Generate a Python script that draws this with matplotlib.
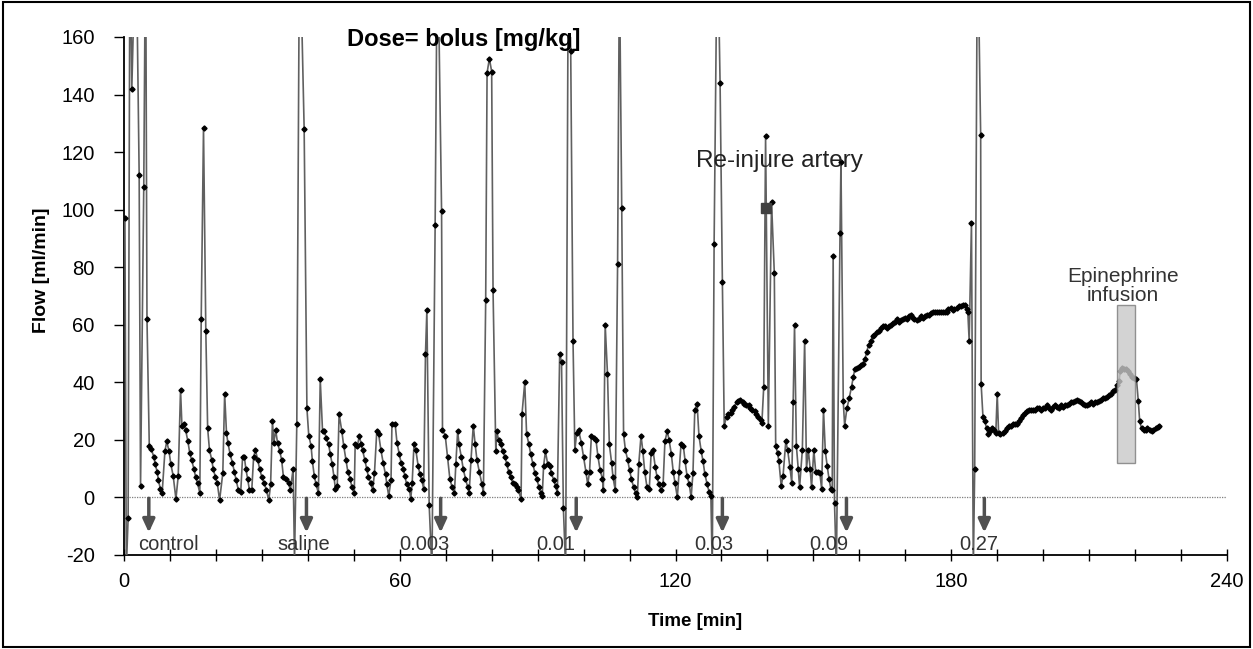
import matplotlib.pyplot as plt
from matplotlib.patches import Rectangle
import numpy as np

plt.rcParams['font.family'] = ['Liberation Sans', 'DejaVu Sans']
plt.rcParams['axes.unicode_minus'] = False

# flow readings [ml/min] vs time [min], split by dose period (200/-25 = off-scale spikes)
t_control = [0.2, 0.5, 0.9, 1.3, 1.7, 2.6, 3.3, 3.6, 4.3, 4.7, 5.0, 5.5, 5.9, 6.5, 6.8, 7.2, 7.5, 7.9, 8.3, 8.9,
             9.3, 9.8, 10.2, 10.7, 11.3, 11.8, 12.3, 12.6, 13.0, 13.4, 13.9, 14.3, 14.7, 15.2, 15.6, 16.0, 16.5,
             16.8, 17.3, 17.8, 18.2, 18.6, 19.1, 19.4, 19.9, 20.3, 20.8, 21.5, 21.9, 22.3, 22.6, 23.1, 23.6, 24.0,
             24.4, 24.9, 25.4, 25.8, 26.2, 26.5, 26.9, 27.3, 27.8, 28.2, 28.6, 29.1, 29.5, 30.0, 30.5, 31.0, 31.5,
             31.9, 32.3, 32.6, 33.0, 33.4, 33.9, 34.3, 34.7, 35.2, 35.8, 36.2, 36.8]
flow_control = [97, -25, -7, 200, 142, 200, 112, 4, 108, 200, 62, 18, 17, 14, 11.5, 9, 6, 3, 1.5, 16,
                19.5, 16, 11.5, 7.5, -0.5, 7.5, 37.5, 25, 25.5, 23.5, 19.5, 15.5, 13, 10, 7, 5, 1.5,
                62, 128.5, 58, 24, 16.5, 13, 10, 7, 5, -1, 8.5, 36, 22.5, 19, 15, 12, 9,
                6, 2.5, 2, 14, 14, 10, 6.5, 2.5, 2.5, 14, 16.5, 13, 10, 7, 5, 2.5, -1,
                4.5, 26.5, 19, 23.5, 19, 16, 13, 7, 6.5, 5, 2.5, 10]

t_saline = [37.1, 37.6, 38.2, 39.2, 39.8, 40.2, 40.7, 41.0, 41.4, 41.8, 42.3, 42.7, 43.2, 43.6, 44.0, 44.5,
            44.9, 45.3, 45.7, 46.0, 46.4, 46.8, 47.4, 47.8, 48.3, 48.7, 49.2, 49.6, 50.1, 50.3, 50.8, 51.2,
            51.6, 51.9, 52.4, 52.8, 53.2, 53.7, 54.1, 54.5, 55.0, 55.4, 55.9, 56.4, 56.9, 57.2, 57.6, 58.1,
            58.3, 59.0, 59.4, 59.9, 60.3, 60.8, 61.1, 61.5, 62.1, 62.4, 62.7, 63.1, 63.5, 64.0, 64.4, 64.8,
            65.2, 65.6, 65.9, 66.4]
flow_saline = [-22, 25.5, 200, 128, 31, 21.5, 18, 12.5, 7.5, 4.5, 1.5, 41, 23, 23, 20.5, 18.5,
               15, 11.5, 7, 3, 4, 29, 23, 18, 13, 9, 6.5, 3.5, 1.5, 18.5, 18, 21.5,
               18.5, 16.5, 13, 10, 7, 5, 2.5, 8.5, 23, 22, 16.5, 12, 8, 4.5, 0.5, 6,
               25.5, 25.5, 19, 15, 12, 10, 7.5, 4.5, 3, -0.5, 5, 18.5, 16.5, 11, 8, 6,
               3, 50, 65, -2.5]

t_0003 = [67.0, 67.7, 68.2, 69.1, 69.3, 69.9, 70.4, 70.9, 71.4, 71.9, 72.2, 72.6, 72.9, 73.4, 73.8, 74.3,
          74.8, 75.1, 75.5, 76.0, 76.4, 76.8, 77.3, 77.9, 78.2, 78.7, 79.0, 79.5, 80.0, 80.3, 80.9, 81.1,
          81.5, 82.0, 82.4, 82.9, 83.3, 83.7, 84.2, 84.6, 85.1, 85.5, 85.8, 86.4, 86.6, 87.2, 87.6, 88.1,
          88.5, 89.0, 89.4, 89.8, 90.3, 90.7, 91.0, 91.3, 91.7, 92.2, 92.6, 93.0, 93.5, 93.9, 94.3, 94.8,
          95.2, 95.6]
flow_0003 = [-25, 94.5, 200, 99.5, 23.5, 21.5, 14, 6.5, 3.5, 1.5, 11.5, 23, 18.5, 14, 10, 6.5,
             3.5, 1.5, 13, 25, 18.5, 13, 9, 4.5, 1.5, 68.5, 147.5, 152.5, 148, 72, 16, 23,
             20, 18.5, 16, 14, 11.5, 9, 7, 5, 4.5, 3.5, 2.5, -0.5, 29, 40, 22, 18.5,
             15, 11.5, 8.5, 6.5, 3.5, 1.5, 0.5, 11, 16, 11.5, 11, 8.5, 6, 4, 1.5, 50,
             47, -3.5]

t_001 = [96.1, 96.7, 97.2, 97.7, 98.1, 98.5, 98.9, 99.5, 100.0, 100.5, 100.9, 101.3, 101.7, 102.2, 102.7,
         103.1, 103.6, 104.1, 104.3, 104.7, 105.2, 105.6, 106.1, 106.4, 106.9, 107.4, 107.8, 108.3, 108.7,
         109.1, 109.6, 110.0, 110.4, 110.9, 111.3, 111.7, 112.0, 112.5, 112.9, 113.3, 113.8, 114.3, 114.7,
         115.1, 115.6, 116.0, 116.4, 116.9, 117.3, 117.7, 118.2, 118.6, 119.1, 119.5, 119.9, 120.4, 120.8,
         121.2, 121.7, 122.1, 122.5, 123.0, 123.4, 123.8, 124.2, 124.7, 125.1, 125.6, 126.0, 126.4, 126.9,
         127.3, 127.7]
flow_001 = [-25, 200, 155, 54.5, 16.5, 22.5, 23.5, 19, 14, 9, 4.5, 9, 21.5, 20.5, 20,
            14.5, 9.5, 6.5, 2.5, 60, 43, 18.5, 12, 7, 2.5, 81, 185, 100.5, 22,
            16.5, 13, 9.5, 6.5, 3.5, 1.5, 0, 11.5, 21.5, 16, 9, 3.5, 3, 15.5,
            16.5, 10.5, 7, 4.5, 2.5, 4.5, 19.5, 23, 20, 15, 9, 5, 0, 9,
            18.5, 18, 12.5, 7.5, 4.5, 0, 8.5, 30.5, 32.5, 21.5, 16, 12.5, 8, 4.5,
            2, 0.5]

t_003 = [128.0, 128.4, 129.1, 129.7, 130.2, 130.6, 131.1, 131.5, 132.0, 132.4, 132.8, 133.3, 133.7, 134.1,
         134.6, 135.0, 135.4, 135.9, 136.3, 136.7, 137.2, 137.6, 138.0, 138.5, 138.8, 139.2, 139.6, 140.2,
         140.9, 141.5, 141.8, 142.2, 142.5, 143.0, 143.4, 144.0, 144.4, 144.9, 145.3, 145.6, 145.9, 146.3,
         146.7, 147.0, 147.6, 148.1, 148.5, 148.9, 149.3, 149.6, 150.1, 150.5, 151.0, 151.4, 151.8, 152.2,
         152.6, 153.0, 153.4, 153.8, 154.1, 154.3, 154.6]
flow_003 = [-25, 88, 200, 144, 75, 25, 28, 29, 29.5, 30.5, 31.5, 33, 33.5, 34,
            33, 32.5, 32, 32, 31, 30.5, 30, 29, 28, 27, 26, 38.5, 125.5, 25,
            102.5, 78, 18, 15.5, 12.5, 4, 7.5, 19.5, 16.5, 10.5, 5, 33, 60, 18,
            10, 3.5, 16.5, 54.5, 10, 16.5, 10, 3.5, 16.5, 9, 9, 8.5, 3, 30.5,
            16, 11, 6.5, 3, 2.5, 84, -2]

t_009 = [155.0, 155.8, 156.0, 156.5, 156.8, 157.3, 157.8, 158.3, 158.7, 159.0, 159.4, 159.9, 160.3, 160.7,
         161.2, 161.6, 162.0, 162.5, 162.9, 163.3, 163.8, 164.2, 164.7, 165.1, 165.5, 166.0, 166.4, 166.8,
         167.3, 167.7, 168.1, 168.6, 169.0, 169.4, 169.9, 170.3, 170.7, 171.2, 171.6, 172.0, 172.5, 172.9,
         173.4, 173.8, 174.2, 174.7, 175.1, 175.5, 176.0, 176.4, 176.8, 177.3, 177.7, 178.1, 178.6, 179.0,
         179.4, 179.9, 180.3, 180.7, 181.2, 181.6, 182.1, 182.5, 182.9, 183.4, 183.6, 183.9, 184.4]
flow_009 = [-25, 92, 116.5, 33.5, 25, 31, 34.5, 38.5, 42, 44.5, 45, 45.5, 46, 46.5,
            48, 50.5, 53, 54.5, 56, 56.5, 57.5, 58, 59, 59.5, 59.5, 59, 59.5, 60,
            60.5, 61, 62, 61, 61.5, 62, 62.5, 62, 63, 63.5, 62.5, 62, 61.5, 62,
            63, 62.5, 63, 63.5, 63.5, 64, 64.5, 64.5, 64.5, 64.5, 64.5, 64.5, 64.5, 64.5,
            65.5, 66, 65, 65.5, 66, 66.5, 66.5, 67, 67, 65.5, 64.5, 54.5, 95.5]

t_027 = [184.8, 185.1, 185.7, 186.4, 186.5, 186.9, 187.3, 187.7, 188.0, 188.4, 188.9, 189.3, 189.7, 190.0,
         190.3, 190.7, 191.2, 191.7, 192.1, 192.6, 193.0, 193.4, 193.9, 194.3, 194.7, 195.2, 195.6, 196.0,
         196.5, 196.9, 197.3, 197.8, 198.2, 198.7, 199.1, 199.5, 200.0, 200.4, 200.8, 201.3, 201.7, 202.1,
         202.6, 203.0, 203.4, 203.9, 204.3, 204.7, 205.2, 205.6, 206.0, 206.5, 206.9, 207.4, 207.8, 208.2,
         208.7, 209.1, 209.5, 210.0, 210.4, 210.8, 211.3, 211.7, 212.1, 212.6, 213.0, 213.4, 213.9, 214.3,
         214.7, 215.2, 215.6, 216.1, 216.5, 216.8, 217.2, 217.6, 218.1, 218.5, 219.0, 219.4, 219.8, 220.3,
         220.7, 221.0, 221.4, 221.9, 222.3, 222.7, 223.2, 223.6, 224.0, 224.5, 224.9, 225.3]
flow_027 = [-25, 10, 200, 126, 39.5, 28, 26.5, 24, 22, 23, 24, 23.5, 22.5, 36,
            22.5, 22, 22.5, 23, 24, 25, 25, 25.5, 25.5, 25.5, 26.5, 27.5, 28.5, 29.5,
            30, 30.5, 30.5, 30.5, 30.5, 31, 31, 30.5, 31, 31, 32, 31, 30.5, 31.5,
            32, 31.5, 31, 32, 31.5, 32, 32, 32.5, 33, 33, 33.5, 34, 33.5, 33,
            32.5, 32, 32, 32.5, 33, 32.5, 33, 33, 33.5, 34, 34.5, 34.5, 35, 35.5,
            36, 37, 37.5, 39, 40.5, 44, 45, 44.5, 44.5, 44, 43, 42, 41.5, 41,
            33.5, 26.5, 24, 23.5, 23.5, 24, 23.5, 23, 23.5, 24, 24.5, 25]

# dose markers
dose_labels = ['control', 'saline', '0.003', '0.01', '0.03', '0.09', '0.27']
dose_times = [5.4, 39.7, 68.9, 98.4, 130.2, 157.2, 187.2]
label_times = [3.0, 33.4, 60.0, 89.7, 124.1, 149.1, 181.8]

reinjure_time, reinjure_flow = 139.7, 100.5
epi_start, epi_end = 216.0, 220.0

segments = [(t_control, flow_control), (t_saline, flow_saline), (t_0003, flow_0003),
            (t_001, flow_001), (t_003, flow_003), (t_009, flow_009), (t_027, flow_027)]
for t, f in segments:
    assert len(t) == len(f), (len(t), len(f))
time_min = np.concatenate([s[0] for s in segments])
flow = np.concatenate([s[1] for s in segments])

fig = plt.figure(figsize=(12.53, 6.49), dpi=100)
ax = fig.add_axes([124 / 1253, 94 / 649, 1103 / 1253, 518 / 649])

ax.axhline(0, color='#7f7f7f', lw=0.9, ls=(0, (1, 1)), zorder=1)
ax.plot(time_min, flow, color='#606060', lw=1.2, marker='D', ms=2.6,
        mfc='black', mec='black', zorder=3)
ax.plot([reinjure_time], [reinjure_flow], marker='s', ms=7, color='#404040', zorder=4)

ax.add_patch(Rectangle((epi_start, 12), epi_end - epi_start, 55, facecolor='#c8c8c8',
                       edgecolor='#7a7a7a', lw=1, alpha=0.8, zorder=5))

for t in dose_times:
    ax.annotate('', xy=(t, -12.2), xytext=(t, -0.3),
                arrowprops=dict(arrowstyle='-|>,head_width=0.3,head_length=0.65', mutation_scale=12,
                                color='#505050', lw=2.5, shrinkA=0, shrinkB=0))
for t, lab in zip(label_times, dose_labels):
    ax.text(t, -16.3, lab, ha='left', va='center', fontsize=14.5, color='#333333')

ax.text(48.5, 159, 'Dose= bolus [mg/kg]', fontsize=17, fontweight='bold', va='center', ha='left')
ax.text(124.5, 117, 'Re-injure artery', fontsize=17.5, color='#222222', va='center', ha='left')
ax.text(217.4, 73.5, 'Epinephrine\ninfusion', fontsize=15, color='#333333',
        ha='center', va='center', linespacing=0.95)

ax.set_xlim(0, 240)
ax.set_ylim(-20, 160)
ax.set_xticks(range(0, 241, 60))
ax.set_xticks(range(0, 241, 10), minor=True)
ax.set_yticks(range(-20, 161, 20))
for side in ['top', 'right']:
    ax.spines[side].set_visible(False)
for side in ['left', 'bottom']:
    ax.spines[side].set_linewidth(1.3)
ax.tick_params(axis='x', which='both', direction='inout', length=8, width=1, labelsize=14.5, pad=8)
ax.tick_params(axis='y', direction='out', length=7, width=1, labelsize=14.5, pad=14)

ax.set_xlabel('Time [min]', fontsize=13.5, fontweight='bold')
ax.set_ylabel('Flow [ml/min]', fontsize=14, fontweight='bold')
ax.xaxis.set_label_coords(0.518, -0.112)
ax.yaxis.set_label_coords(-0.067, 0.55)

fig.patches.append(Rectangle((0.002, 0.003), 0.996, 0.994, transform=fig.transFigure,
                             fill=False, edgecolor='black', lw=1.5))

fig.savefig('out.png', dpi=100)
